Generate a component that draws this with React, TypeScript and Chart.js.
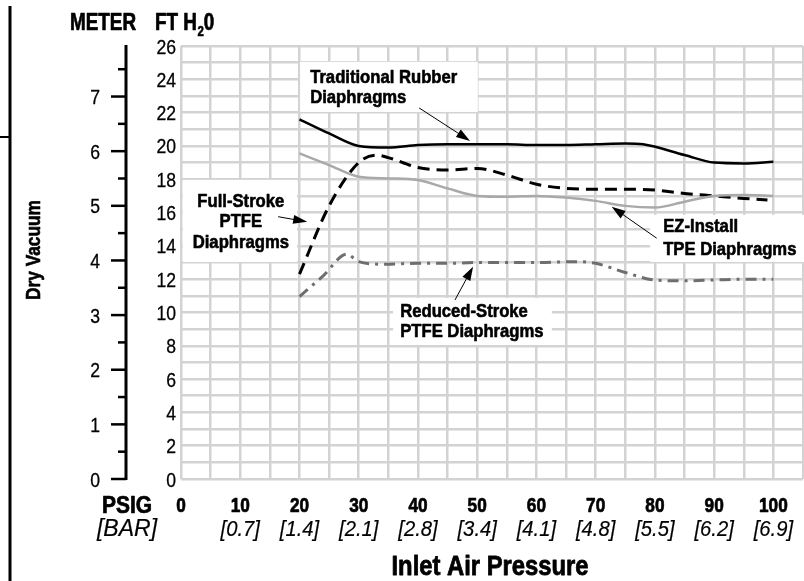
import React, { useEffect, useRef } from "react";
import { Chart, registerables } from "chart.js";

Chart.register(...registerables);

const FONT = "'Liberation Sans', Arial, sans-serif";

// ---- data (x = inlet air pressure in PSIG, y = dry vacuum in FT H2O) ----
const traditionalX = [20, 25, 30, 35, 40, 45, 50, 55, 60, 65, 70, 75, 78, 85, 90, 95, 100];
const traditionalY = [21.6, 20.75, 20.0, 19.9, 20.05, 20.1, 20.1, 20.1, 20.05, 20.05, 20.1, 20.15, 20.1, 19.45, 19.0, 18.95, 19.05];

const ezInstallX = [20, 25, 30, 35, 40, 45, 50, 55, 60, 65, 70, 75, 80, 85, 90, 95, 100];
const ezInstallY = [19.55, 18.85, 18.15, 18.05, 17.95, 17.45, 17.0, 16.95, 17.0, 16.9, 16.7, 16.4, 16.3, 16.65, 17.0, 17.05, 17.0];

const fullStrokeX = [20, 25, 30, 33, 35, 40, 45, 50, 55, 60, 65, 70, 75, 80, 85, 90, 95, 99];
const fullStrokeY = [12.3, 16.4, 19.0, 19.45, 19.3, 18.7, 18.55, 18.65, 18.25, 17.7, 17.45, 17.4, 17.4, 17.35, 17.15, 17.0, 16.85, 16.75];

const reducedX = [20, 24, 28, 30, 34, 40, 45, 50, 55, 60, 67, 70, 75, 80, 85, 90, 95, 100];
const reducedY = [10.95, 12.2, 13.5, 13.05, 12.9, 12.95, 12.95, 13.0, 13.0, 13.0, 13.05, 12.95, 12.4, 11.95, 11.9, 11.95, 12.0, 12.0];

const psigTicks = [0, 10, 20, 30, 40, 50, 60, 70, 80, 90, 100];
const psigLabels = ["0", "10", "20", "30", "40", "50", "60", "70", "80", "90", "100"];
const barLabels = ["", "[0.7]", "[1.4]", "[2.1]", "[2.8]", "[3.4]", "[4.1]", "[4.8]", "[5.5]", "[6.2]", "[6.9]"];
const ftTicks = [0, 2, 4, 6, 8, 10, 12, 14, 16, 18, 20, 22, 24, 26];
const meterTicks = [0, 1, 2, 3, 4, 5, 6, 7];
const meterMinorTicks = [0.5, 1.5, 2.5, 3.5, 4.5, 5.5, 6.5, 7.5];
const FT_PER_METER = 3.2808;

// annotation callouts, anchored in data units
const callouts = [
  {
    lines: ["Traditional Rubber", "Diaphragms"],
    align: "left",
    textX: 21.8,
    baselines: [23.78, 22.58],
    box: [20.1, 25.05, 50.1, 22.04],
    arrow: [40.2, 22.28, 48.8, 20.3],
  },
  {
    lines: ["Full-Stroke", "PTFE", "Diaphragms"],
    align: "center",
    textX: 10.1,
    baselines: [16.35, 15.15, 13.87],
    box: [0.3, 17.96, 19.6, 13.03],
    arrow: [16.4, 15.75, 21.3, 15.44],
  },
  {
    lines: ["EZ-Install", "TPE Diaphragms"],
    align: "left",
    textX: 81.4,
    baselines: [14.85, 13.45],
    box: [79.2, 15.86, 106, 13.03],
    arrow: [80.3, 14.46, 72.7, 16.35],
  },
  {
    lines: ["Reduced-Stroke", "PTFE Diaphragms"],
    align: "left",
    textX: 37.0,
    baselines: [9.75, 8.55],
    box: [35.8, 10.87, 62.6, 8.05],
    arrow: [46.25, 10.75, 49.3, 12.75],
  },
];

function txt(
  ctx: CanvasRenderingContext2D,
  s: string,
  x: number,
  y: number,
  font: string,
  align: CanvasTextAlign,
  sx: number,
  heavy = 0
) {
  ctx.save();
  ctx.font = font;
  ctx.textAlign = align;
  ctx.textBaseline = "alphabetic";
  ctx.translate(x, y);
  ctx.scale(sx, 1);
  ctx.fillStyle = "#000";
  ctx.fillText(s, 0, 0);
  if (heavy > 0) {
    ctx.strokeStyle = "#000";
    ctx.lineWidth = heavy;
    ctx.lineJoin = "round";
    ctx.strokeText(s, 0, 0);
  }
  ctx.restore();
}

function drawArrow(ctx: CanvasRenderingContext2D, x1: number, y1: number, x2: number, y2: number) {
  const ang = Math.atan2(y2 - y1, x2 - x1);
  const hl = 14;
  const hw = 4.5;
  const c = Math.cos(ang);
  const s = Math.sin(ang);
  ctx.save();
  ctx.strokeStyle = "#000";
  ctx.fillStyle = "#000";
  ctx.lineWidth = 1;
  ctx.beginPath();
  ctx.moveTo(x1, y1);
  ctx.lineTo(x2 - hl * 0.8 * c, y2 - hl * 0.8 * s);
  ctx.stroke();
  ctx.beginPath();
  ctx.moveTo(x2, y2);
  ctx.lineTo(x2 - hl * c - hw * s, y2 - hl * s + hw * c);
  ctx.lineTo(x2 - hl * c + hw * s, y2 - hl * s - hw * c);
  ctx.closePath();
  ctx.fill();
  ctx.restore();
}

const decorPlugin = {
  id: "decor",
  beforeDatasetsDraw(chart: any) {
    const ctx: CanvasRenderingContext2D = chart.ctx;
    const xs = chart.scales.x;
    const ys = chart.scales.y;
    ctx.save();
    ctx.fillStyle = "#fff";
    for (const c of callouts) {
      const [bx1, by1, bx2, by2] = c.box;
      const l = xs.getPixelForValue(bx1);
      const r = xs.getPixelForValue(bx2);
      const t = ys.getPixelForValue(by1);
      const b = ys.getPixelForValue(by2);
      ctx.fillRect(l, t, r - l, b - t);
    }
    ctx.restore();
  },
  afterDatasetsDraw(chart: any) {
    const ctx: CanvasRenderingContext2D = chart.ctx;
    const xs = chart.scales.x;
    const ys = chart.scales.y;
    ctx.save();
    for (const c of callouts) {
      const tx = xs.getPixelForValue(c.textX);
      c.lines.forEach((line, i) => {
        txt(ctx, line, tx, ys.getPixelForValue(c.baselines[i]), `bold 18.5px ${FONT}`, c.align as CanvasTextAlign, 0.9, 0.6);
      });
      const [ax1, ay1, ax2, ay2] = c.arrow;
      drawArrow(
        ctx,
        xs.getPixelForValue(ax1),
        ys.getPixelForValue(ay1),
        xs.getPixelForValue(ax2),
        ys.getPixelForValue(ay2)
      );
    }
    ctx.restore();
  },
  afterDraw(chart: any) {
    const ctx: CanvasRenderingContext2D = chart.ctx;
    const xs = chart.scales.x;
    const ys = chart.scales.y;
    const ym = chart.scales.yM;
    ctx.save();
    ctx.fillStyle = "#000";
    ctx.strokeStyle = "#000";

    // left page border
    ctx.lineWidth = 3;
    ctx.beginPath();
    ctx.moveTo(10, 6);
    ctx.lineTo(10, 581);
    ctx.stroke();
    ctx.lineWidth = 2;
    ctx.beginPath();
    ctx.moveTo(0, 137);
    ctx.lineTo(10, 137);
    ctx.stroke();

    // FT tick labels
    const tickFont = `20px ${FONT}`;
    for (const v of ftTicks) {
      txt(ctx, String(v), 176, ys.getPixelForValue(v) + 7.5, tickFont, "right", 0.88, 0.3);
    }

    // Meter axis
    const axX = 126;
    ctx.lineWidth = 3;
    ctx.beginPath();
    ctx.moveTo(axX, ym.getPixelForValue(ym.max) - 1);
    ctx.lineTo(axX, ym.getPixelForValue(0) + 1);
    ctx.stroke();
    ctx.lineWidth = 2.5;
    for (const v of meterTicks) {
      const py = ym.getPixelForValue(v);
      ctx.beginPath();
      ctx.moveTo(111, py);
      ctx.lineTo(axX, py);
      ctx.stroke();
      txt(ctx, String(v), 100, py + 7.5, tickFont, "right", 0.88, 0.3);
    }
    for (const v of meterMinorTicks) {
      const py = ym.getPixelForValue(v);
      ctx.beginPath();
      ctx.moveTo(118, py);
      ctx.lineTo(axX, py);
      ctx.stroke();
    }

    // Headers
    const hs = 0.82;
    const hFont = `bold 23px ${FONT}`;
    txt(ctx, "METER", 70, 30, hFont, "left", hs, 0.7);
    ctx.font = hFont;
    let hx = 155;
    txt(ctx, "FT H", hx, 30, hFont, "left", hs, 0.7);
    hx += ctx.measureText("FT H").width * hs;
    ctx.font = `bold 14px ${FONT}`;
    txt(ctx, "2", hx + 0.5, 36, `bold 14px ${FONT}`, "left", hs, 0.5);
    hx += ctx.measureText("2").width * hs + 0.5;
    txt(ctx, "0", hx, 30, hFont, "left", hs, 0.7);

    // X tick labels
    psigTicks.forEach((v, i) => {
      txt(ctx, psigLabels[i], xs.getPixelForValue(v), 512, `bold 21px ${FONT}`, "center", 0.82, 0.7);
    });
    psigTicks.forEach((v, i) => {
      if (barLabels[i]) txt(ctx, barLabels[i], xs.getPixelForValue(v), 536, `italic 22px ${FONT}`, "center", 0.92, 0.2);
    });
    txt(ctx, "PSIG", 127, 513, `bold 23px ${FONT}`, "center", 0.91, 0.7);
    txt(ctx, "[BAR]", 127, 536, `italic 23px ${FONT}`, "center", 1.0, 0.2);

    txt(ctx, "Inlet Air Pressure", 490, 575, `bold 27.5px ${FONT}`, "center", 0.865, 0.8);

    // Dry Vacuum
    ctx.save();
    ctx.translate(40, 250);
    ctx.rotate(-Math.PI / 2);
    txt(ctx, "Dry Vacuum", 0, 0, `bold 20px ${FONT}`, "center", 0.865, 0.6);
    ctx.restore();

    ctx.restore();
  },
};

function toPoints(xs: number[], ys: number[]) {
  return xs.map((x, i) => ({ x, y: ys[i] }));
}

export default function App() {
  const ref = useRef<HTMLCanvasElement | null>(null);
  useEffect(() => {
    document.body.style.margin = "0";
    const canvas = ref.current;
    if (!canvas) return;
    const gridColor = "#d3d3d3";
    const chart = new Chart(canvas, {
      type: "line",
      data: {
        datasets: [
          {
            label: "Traditional Rubber Diaphragms",
            data: toPoints(traditionalX, traditionalY),
            borderColor: "#000",
            borderWidth: 2.5,
            pointRadius: 0,
            cubicInterpolationMode: "monotone",
          },
          {
            label: "EZ-Install TPE Diaphragms",
            data: toPoints(ezInstallX, ezInstallY),
            borderColor: "#a9a9a9",
            borderWidth: 2.5,
            pointRadius: 0,
            cubicInterpolationMode: "monotone",
          },
          {
            label: "Full-Stroke PTFE Diaphragms",
            data: toPoints(fullStrokeX, fullStrokeY),
            borderColor: "#000",
            borderWidth: 3,
            borderDash: [12, 7],
            pointRadius: 0,
            cubicInterpolationMode: "monotone",
          },
          {
            label: "Reduced-Stroke PTFE Diaphragms",
            data: toPoints(reducedX, reducedY),
            borderColor: "#6e6e6e",
            borderWidth: 3,
            borderDash: [11, 6, 3, 6],
            pointRadius: 0,
            cubicInterpolationMode: "monotone",
          },
        ],
      },
      options: {
        responsive: false,
        animation: false,
        events: [],
        layout: { padding: { left: 181, top: 46, right: 1, bottom: 102 } },
        plugins: { legend: { display: false }, tooltip: { enabled: false } },
        scales: {
          x: {
            type: "linear",
            min: 0,
            max: 105,
            ticks: { display: false, stepSize: 5 },
            grid: { color: gridColor, lineWidth: 2.5, drawTicks: false },
            border: { display: false },
          },
          y: {
            type: "linear",
            min: 0,
            max: 26,
            ticks: { display: false, stepSize: 1 },
            grid: { color: gridColor, lineWidth: 2.5, drawTicks: false },
            border: { display: false },
          },
          yM: {
            type: "linear",
            display: false,
            position: "left",
            min: 0,
            max: 26 / FT_PER_METER,
          },
        },
      },
      plugins: [decorPlugin],
    });
    return () => chart.destroy();
  }, []);
  return (
    <div style={{ width: 804, height: 581, background: "#fff" }}>
      <canvas ref={ref} width={804} height={581} style={{ display: "block" }} />
    </div>
  );
}
